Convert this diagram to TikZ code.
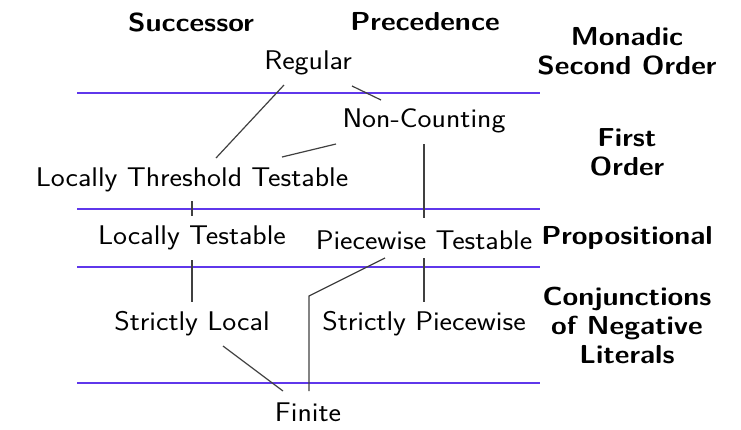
\documentclass[tikz,border=0pt]{standalone}
\usepackage{graphicx}
\newcommand{\widetxt}[1]{\scalebox{1.1}[1]{#1}}
\begin{document}
\begin{tikzpicture}[x=1pt,y=-1pt,
  lab/.style={font=\sffamily\fontsize{27}{31}\selectfont, inner sep=0pt, anchor=center},
  head/.style={font=\sffamily\bfseries\fontsize{26}{29}\selectfont, inner sep=0pt, align=center},
  band/.style={draw={rgb,255:red,95;green,55;blue,235}, line width=2.8pt},
  conn/.style={draw=black!75, line width=1.2pt}]
\useasboundingbox (0,0) rectangle (741,429);
% headers
\node[head] (succ) at (191,22) {\widetxt{Successor}};
\node[head] (prec) at (425,22) {\widetxt{Precedence}};
\node[head] (mso) at (627,51) {\widetxt{Monadic}\\\widetxt{Second Order}};
\node[head] (fo) at (627,152) {\widetxt{First}\\\widetxt{Order}};
\node[head] (prop) at (627,238) {\widetxt{Propositional}};
\node[head] (cnl) at (627,325) {\widetxt{Conjunctions}\\\widetxt{of Negative}\\\widetxt{Literals}};
% band lines
\coordinate (b1l) at (77,93);  \coordinate (b1r) at (540,93);
\coordinate (b2l) at (77,209); \coordinate (b2r) at (540,209);
\coordinate (b3l) at (77,267); \coordinate (b3r) at (540,267);
\coordinate (b4l) at (77,383); \coordinate (b4r) at (540,383);
\draw[band] (b1l) -- (b1r);
\draw[band] (b2l) -- (b2r);
\draw[band] (b3l) -- (b3r);
\draw[band] (b4l) -- (b4r);
% classes
\node[lab] (reg) at (308,63) {\widetxt{Regular}};
\node[lab] (nc) at (424,121) {\widetxt{Non-Counting}};
\node[lab] (ltt) at (192,180) {\widetxt{Locally Threshold Testable}};
\node[lab] (lt) at (192,238) {\widetxt{Locally Testable}};
\node[lab] (pt) at (424,240) {\widetxt{Piecewise Testable}};
\node[lab] (sl) at (192,324) {\widetxt{Strictly Local}};
\node[lab] (sp) at (424,324) {\widetxt{Strictly Piecewise}};
\node[lab] (fin) at (308,412) {\widetxt{Finite}};
% connectors
\draw[conn] ([shift={(-24,22)}]reg.center) -- ([shift={(24,-22)}]ltt.center);
\draw[conn] ([shift={(44,23)}]reg.center) -- ([shift={(-43,-21)}]nc.center);
\draw[conn] ([shift={(-88,23)}]nc.center) -- ([shift={(90,-23)}]ltt.center);
\draw[conn] ([shift={(0,23)}]nc.center) -- ([shift={(0,-22)}]pt.center);
\draw[conn] ([shift={(0,21)}]ltt.center) -- ([shift={(0,-22)}]lt.center);
\draw[conn] ([shift={(0,22)}]lt.center) -- ([shift={(0,-22)}]sl.center);
\draw[conn] ([shift={(0,18)}]pt.center) -- ([shift={(0,-22)}]sp.center);
\coordinate (bend) at (309,296);
\draw[conn] ([shift={(-39,18)}]pt.center) -- (bend) -- ([shift={(1,-21)}]fin.center);
\draw[conn] ([shift={(31,22)}]sl.center) -- ([shift={(-25,-21)}]fin.center);
\end{tikzpicture}
\end{document}
